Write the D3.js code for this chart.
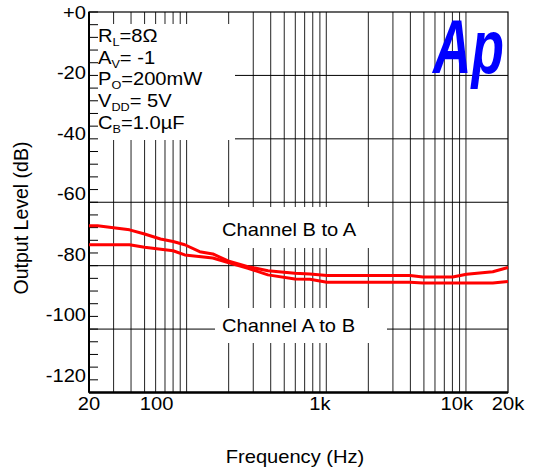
<!DOCTYPE html>
<html><head><meta charset="utf-8">
<script src="https://cdn.jsdelivr.net/npm/d3@7"></script>
<style>body{margin:0;background:#fff}svg{display:block}text{font-family:"Liberation Sans",Arial,sans-serif;fill:#000}</style>
</head><body><svg id="c" width="539" height="473"></svg>
<script>
// Channel B to A (upper at low frequencies)
const freqBA = [20, 23, 39, 50, 65, 80, 97, 124, 154, 198, 275, 382, 596, 764, 1010, 3980, 4920, 8040, 10100, 15560, 20000];
const dbBA   = [-67.4, -67.4, -68.7, -70.0, -71.6, -72.4, -73.4, -75.6, -76.3, -78.5, -80.3, -81.6, -82.4, -82.6, -83.1, -83.1, -83.6, -83.6, -82.7, -81.9, -80.6];
// Channel A to B (lower at low frequencies)
const freqAB = [20, 39, 50, 80, 97, 154, 198, 275, 382, 596, 764, 1010, 3980, 4920, 15560, 20000];
const dbAB   = [-73.4, -73.4, -74.2, -75.3, -76.6, -77.6, -79.0, -80.8, -82.9, -84.2, -84.3, -85.2, -85.2, -85.5, -85.5, -85.0];
const xTickLabels = ["20", "100", "1k", "10k", "20k"];
const xTickLabelAt = [20, 61, 900, 8600, 20000];
const yTickValues = [0, -20, -40, -60, -80, -100, -120];
const yTickLabels = ["+0", "-20", "-40", "-60", "-80", "-100", "-120"];
const notes = [["R", "L", "=8\u03A9"], ["A", "V", "= -1"], ["P", "O", "=200mW"], ["V", "DD", "= 5V"], ["C", "B", "=1.0\u00B5F"]];
const seriesLabels = ["Channel B to A", "Channel A to B"];

const svg = d3.select("#c");
const L = 89, T = 12, R = 508, B = 392.5;
const x = d3.scaleLog().domain([20, 20000]).range([L, R]);
const y = d3.scaleLinear().domain([0, -120]).range([T, B]);
const yLab = d3.scaleLinear().domain([0, -120]).range([T + 0.5, 376]);
const SX = 1.15, FS = 17.5;

// grid
const gridF = [];
for (let d = 10; d <= 10000; d *= 10) for (let m = 1; m <= 9; m++) { const f = d * m; if (f > 20 && f < 20000) gridF.push(f); }
svg.append("g").selectAll("line").data(gridF).join("line")
  .attr("x1", d => x(d)).attr("x2", d => x(d)).attr("y1", T).attr("y2", B)
  .attr("stroke", "#222").attr("stroke-width", 1);
svg.append("g").selectAll("line").data([-20, -40, -60, -80, -100]).join("line")
  .attr("x1", L).attr("x2", R).attr("y1", d => y(d)).attr("y2", d => y(d))
  .attr("stroke", "#000").attr("stroke-width", 1);

// white label boxes
const boxes = [[90, 24, 145, 116], [210, 207, 165, 41], [215, 308, 172, 35]];
svg.append("g").selectAll("rect").data(boxes).join("rect")
  .attr("x", d => d[0]).attr("y", d => d[1]).attr("width", d => d[2]).attr("height", d => d[3]).attr("fill", "#fff");

// minor y ticks
svg.append("g").selectAll("line").data(d3.range(0, -121, -4)).join("line")
  .attr("x1", L).attr("x2", L + 9).attr("y1", d => y(d)).attr("y2", d => y(d))
  .attr("stroke", "#000").attr("stroke-width", 1);

// frame
svg.append("rect").attr("x", L).attr("y", T).attr("width", R - L).attr("height", B - T)
  .attr("fill", "none").attr("stroke", "#000").attr("stroke-width", 1.2);
svg.append("line").attr("x1", L).attr("x2", R).attr("y1", B).attr("y2", B).attr("stroke", "#000").attr("stroke-width", 2.5);
svg.append("line").attr("x1", L).attr("x2", L).attr("y1", T).attr("y2", B).attr("stroke", "#000").attr("stroke-width", 2);

// curves
const line = d3.line().x(d => x(d[0])).y(d => y(d[1]));
[[freqBA, dbBA], [freqAB, dbAB]].forEach(([f, v]) => {
  svg.append("path").datum(f.map((d, i) => [d, v[i]])).attr("d", line)
    .attr("fill", "none").attr("stroke", "#ff0000").attr("stroke-width", 3).attr("stroke-linejoin", "round");
});

function stext(g, px, py, str, anchor, size) {
  return g.append("text").attr("transform", `translate(${px},${py}) scale(${SX},1)`)
    .attr("text-anchor", anchor || "start").attr("font-size", size || FS).text(str);
}
// y tick labels
yTickValues.forEach((v, i) => stext(svg, 86, yLab(v) + 6, yTickLabels[i], "end"));
// x tick labels
xTickLabelAt.forEach((f, i) => stext(svg, x(f), 410, xTickLabels[i], "middle"));

// axis titles
svg.append("text").attr("transform", `translate(28,218) rotate(-90)`).attr("text-anchor", "middle")
  .attr("font-size", 19.5).text("Output Level (dB)");
stext(svg, 295, 463, "Frequency (Hz)", "middle");

// notes
notes.forEach((n, i) => {
  const t = svg.append("text").attr("transform", `translate(98,${42 + i * 21.7}) scale(${SX},1)`).attr("font-size", FS);
  t.append("tspan").text(n[0]);
  t.append("tspan").attr("font-size", 11).attr("dy", 4).text(n[1]);
  t.append("tspan").attr("dy", -4).text(n[2]);
});

// series labels
stext(svg, 222, 236, seriesLabels[0]);
stext(svg, 222, 332, seriesLabels[1]);

// Ap logo
svg.append("text").attr("transform", "translate(433,73) scale(0.7,1)")
  .attr("font-size", 76).attr("font-weight", "bold").attr("font-style", "italic")
  .style("fill", "#0000ff").text("Ap");
</script></body></html>
